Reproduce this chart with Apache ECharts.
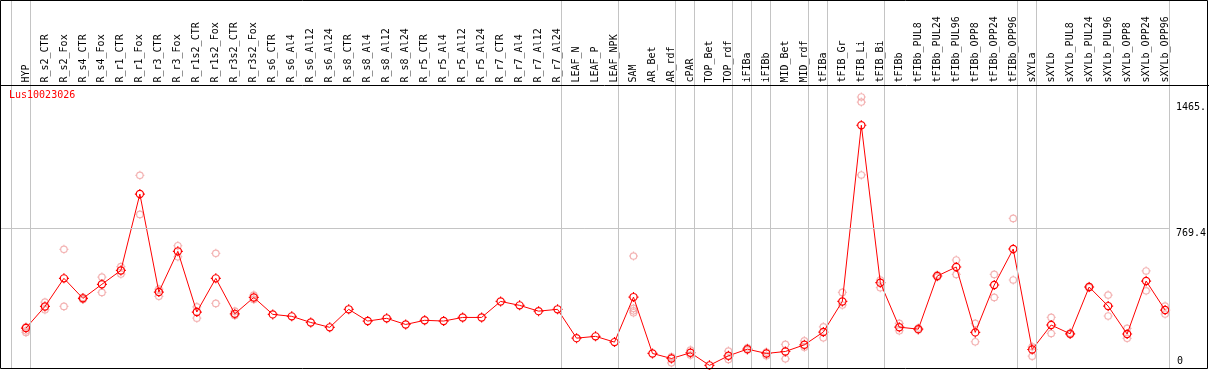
<!DOCTYPE html>
<html>
<head>
<meta charset="utf-8">
<script src="https://cdn.jsdelivr.net/npm/echarts@6/dist/echarts.min.js"></script>
<style>
  body { margin: 0; background: #fff; }
  #main { width: 1209px; height: 370px; }
</style>
</head>
<body>
<div id="main"></div>
<script>
const cats = ['HYP', 'R_s2_CTR', 'R_s2_Fox', 'R_s4_CTR', 'R_s4_Fox', 'R_r1_CTR', 'R_r1_Fox',
  'R_r3_CTR', 'R_r3_Fox', 'R_r1s2_CTR', 'R_r1s2_Fox', 'R_r3s2_CTR', 'R_r3s2_Fox',
  'R_s6_CTR', 'R_s6_Al4', 'R_s6_Al12', 'R_s6_Al24', 'R_s8_CTR', 'R_s8_Al4', 'R_s8_Al12',
  'R_s8_Al24', 'R_r5_CTR', 'R_r5_Al4', 'R_r5_Al12', 'R_r5_Al24', 'R_r7_CTR', 'R_r7_Al4',
  'R_r7_Al12', 'R_r7_Al24', 'LEAF_N', 'LEAF_P', 'LEAF_NPK', 'SAM', 'AR_Bet', 'AR_rdf',
  'cPAR', 'TOP_Bet', 'TOP_rdf', 'iFIBa', 'iFIBb', 'MID_Bet', 'MID_rdf', 'tFIBa', 'tFIB_Gr',
  'tFIB_Li', 'tFIB_Bi', 'tFIBb', 'tFIBb_PUL8', 'tFIBb_PUL24', 'tFIBb_PUL96', 'tFIBb_OPP8',
  'tFIBb_OPP24', 'tFIBb_OPP96', 'sXYLa', 'sXYLb', 'sXYLb_PUL8', 'sXYLb_PUL24', 'sXYLb_PUL96',
  'sXYLb_OPP8', 'sXYLb_OPP24', 'sXYLb_OPP96']

// mean expression per sample
const means = [214, 334, 490, 379, 457, 534, 958, 414, 640, 303, 490, 293, 384,
  290, 279, 245, 218, 318, 253, 268, 234, 257, 253, 273, 273, 362, 340, 308, 318, 158, 168, 136,
  386, 73, 45, 77, 7, 60, 97, 73, 84, 121, 192, 362, 1340, 466,
  219, 208, 503, 553, 190, 453, 653, 95, 231, 182, 442, 336, 181, 475, 314]

// replicates (pink circles)
const reps = [
  [221, 199, 190], [358, 316], [651, 334], [384, 373], [497, 412], [555, 514], [1062, 845],
  [430, 390], [671, 610], [332, 269], [629, 351], [308, 284], [397, 373],
  [], [], [], [], [], [], [], [], [], [], [], [], [], [], [], [], [], [], [],
  [614, 323, 310, 299], [], [54, 21], [92, 64], [], [86, 40], [104, 92], [81, 60],
  [123, 43], [143, 108], [221, 160], [412, 342], [1497, 1469, 1064], [481, 438],
  [240, 199], [214, 203], [509, 497], [592, 512], [240, 138], [512, 384], [823, 481],
  [110, 58], [273, 184], [186, 178], [446, 438], [397, 281], [212, 157], [531, 421], [336, 292]
]

// last sample of each group (a grey rule follows it)
const groupEnds = [-1, 0, 28, 31, 34, 35, 37, 38, 39, 41, 42, 45, 52, 53, 60]
const yTicks = [769.4, 1465]
const yMid = 769.4

const mono = 'DejaVu Sans Mono'
const marker = 'path://M8.6,5 A3.6,3.6 0 1 1 1.4,5 A3.6,3.6 0 1 1 8.6,5 Z M5,0 L5,1.4 M5,8.6 L5,10 M0,5 L1.4,5 M8.6,5 L10,5'

const repPts = []
reps.forEach((arr, i) => {
  arr.forEach(v => repPts.push([i, v]))
})

const chart = echarts.init(document.getElementById('main'))
chart.setOption({
  animation: false,
  title: {
    text: 'Lus10023026',
    left: 9,
    top: 90,
    padding: 0,
    textStyle: { color: '#ff0000', fontSize: 10, fontWeight: 'normal', fontFamily: mono }
  },
  grid: { left: 1, right: 38, top: 0, bottom: 1.5 },
  xAxis: {
    type: 'value',
    position: 'top',
    offset: -85.5,
    min: -1.3144,
    max: 60.2,
    axisLine: { show: false },
    axisTick: { show: false },
    splitLine: { show: false },
    axisLabel: {
      customValues: cats.map((c, i) => i),
      formatter: v => cats[v],
      rotate: 90,
      margin: 3,
      color: '#000',
      fontSize: 10,
      fontFamily: mono
    }
  },
  yAxis: [
    {
      type: 'value',
      position: 'right',
      min: -10.5,
      max: 2035.5,
      axisLine: { show: false },
      axisTick: { show: false },
      splitLine: { show: false },
      axisLabel: {
        customValues: yTicks,
        formatter: v => (v === 1465 ? '1465.' : String(v)),
        verticalAlign: 'top',
        margin: 7,
        color: '#000',
        fontSize: 10,
        fontFamily: mono
      }
    },
    {
      type: 'value',
      position: 'right',
      min: -10.5,
      max: 2035.5,
      axisLine: { show: false },
      axisTick: { show: false },
      splitLine: { show: false },
      axisLabel: {
        customValues: [0],
        verticalAlign: 'bottom',
        margin: 8,
        color: '#000',
        fontSize: 10,
        fontFamily: mono
      }
    }
  ],
  series: [
    {
      type: 'line',
      data: [],
      z: 1,
      silent: true,
      markLine: {
        silent: true,
        symbol: ['none', 'none'],
        label: { show: false },
        lineStyle: { color: '#c4c4c4', width: 1, type: 'solid' },
        data: groupEnds.map(i => ({ xAxis: i + 0.2 })).concat([{ yAxis: yMid }])
      }
    },
    {
      type: 'scatter',
      data: repPts,
      z: 2,
      silent: true,
      symbol: marker,
      symbolSize: 9,
      itemStyle: { color: 'rgba(0,0,0,0)', borderColor: '#f0a0a0', borderWidth: 1.2 }
    },
    {
      type: 'line',
      data: means.map((v, i) => [i, v]),
      z: 3,
      silent: true,
      showSymbol: true,
      showAllSymbol: true,
      symbol: marker,
      symbolSize: 10,
      itemStyle: { color: 'rgba(0,0,0,0)', borderColor: '#ff0000', borderWidth: 1.2 },
      lineStyle: { color: '#ff0000', width: 1 }
    }
  ],
  graphic: [
    {
      type: 'rect',
      shape: { x: 0.5, y: 0.5, width: 1207, height: 368 },
      style: { fill: 'none', stroke: '#000', lineWidth: 1 },
      silent: true,
      z: 10
    },
    {
      type: 'line',
      shape: { x1: 0, y1: 85.5, x2: 1209, y2: 85.5 },
      style: { stroke: '#000', lineWidth: 1 },
      silent: true,
      z: 10
    }
  ]
})
</script>
</body>
</html>
